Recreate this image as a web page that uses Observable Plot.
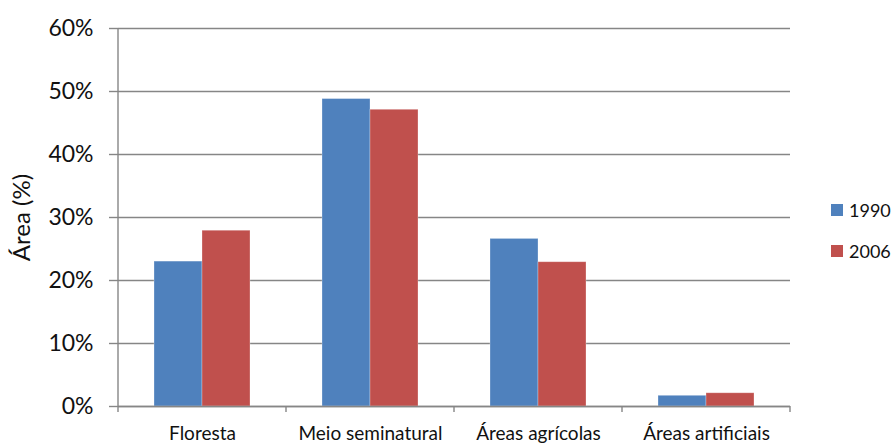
<!DOCTYPE html>
<html>
<head>
<meta charset="utf-8">
<script src="https://cdn.jsdelivr.net/npm/d3@7"></script>
<script src="https://cdn.jsdelivr.net/npm/@observablehq/plot@0.6"></script>
<style>
  html, body { margin: 0; padding: 0; background: #fff; }
  #wrap { position: relative; width: 893px; height: 443px; font-family: Lato, "Open Sans", sans-serif; }
  #legend { position: absolute; left: 831px; top: 198px; font-size: 18px; color: #111; }
  #legend .item { display: flex; align-items: center; height: 24px; margin-bottom: 17px; }
  #legend .sw { width: 12px; height: 12px; margin-right: 6px; }
</style>
</head>
<body>
<div id="wrap"><div id="legend"></div></div>
<script>
// Land cover share by class, 1990 vs 2006
const categories = ["Floresta", "Meio seminatural", "Áreas agrícolas", "Áreas artificiais"];
const years = ["1990", "2006"];
const values1990 = [0.230, 0.488, 0.266, 0.017];
const values2006 = [0.279, 0.471, 0.229, 0.021];
const colors = ["#4F81BD", "#C0504D"];
const yTicks = [0, 0.1, 0.2, 0.3, 0.4, 0.5, 0.6];

const rows = categories.flatMap((c, i) => [
  {category: c, year: years[0], value: values1990[i]},
  {category: c, year: years[1], value: values2006[i]}
]);

const gray = "#868686";
const W = 893, H = 443, ML = 117, MR = 103, MT = 28, MB = 37;

const chart = Plot.plot({
  width: W,
  height: H,
  marginLeft: ML,
  marginRight: MR,
  marginTop: MT,
  marginBottom: MB,
  style: {fontFamily: "Lato, 'Open Sans', sans-serif", background: "#fff", color: "#111"},
  fx: {domain: categories, padding: 0, label: null},
  x: {domain: years, paddingInner: 0, paddingOuter: 0.75, axis: null},
  y: {domain: [0, 0.6], ticks: yTicks},
  color: {domain: years, range: colors},
  marks: [
    Plot.gridY(yTicks, {stroke: gray, strokeOpacity: 1, strokeWidth: 1.4}),
    Plot.barY(rows, {fx: "category", x: "year", y: "value", fill: "year", stroke: "#fff", strokeOpacity: 0.35, strokeWidth: 0.8}),
    Plot.ruleY([0], {stroke: gray, strokeWidth: 1.4}),
    Plot.axisY(yTicks, {
      tickFormat: d3.format(".0%"), tickSize: 9, tickPadding: 16,
      stroke: gray, strokeWidth: 1.4, fill: "#111", fontSize: 23, label: null
    }),
    Plot.axisY([], {
      tickSize: 0, fill: "#111", fontSize: 24,
      label: "Área (%)", labelAnchor: "center", labelArrow: false, labelOffset: 106
    }),
    Plot.axisFx({anchor: "bottom", tickSize: 0, tickPadding: 20, fontSize: 19, fill: "#111", label: null})
  ]
});

document.getElementById("wrap").prepend(chart);

// Left axis line and tick marks at the boundaries between categories
const svg = d3.select(chart.tagName.toLowerCase() === "svg" ? chart : chart.querySelector("svg"));
const fx = chart.scale("fx");
const y = chart.scale("y");
const y0 = y.apply(0), yTop = y.apply(0.6);
const bounds = categories.map(c => fx.apply(c)).concat([fx.apply(categories[categories.length - 1]) + fx.bandwidth]);
svg.append("line")
  .attr("x1", bounds[0]).attr("x2", bounds[0])
  .attr("y1", yTop).attr("y2", y0)
  .attr("stroke", gray).attr("stroke-width", 1.4);
svg.append("g").selectAll("line").data(bounds).join("line")
  .attr("x1", d => d).attr("x2", d => d)
  .attr("y1", y0).attr("y2", y0 + 6)
  .attr("stroke", gray).attr("stroke-width", 1.4);

// Legend
const legend = d3.select("#legend");
years.forEach((yr, i) => {
  const item = legend.append("div").attr("class", "item");
  item.append("div").attr("class", "sw").style("background", colors[i]);
  item.append("span").text(yr);
});
</script>
</body>
</html>
